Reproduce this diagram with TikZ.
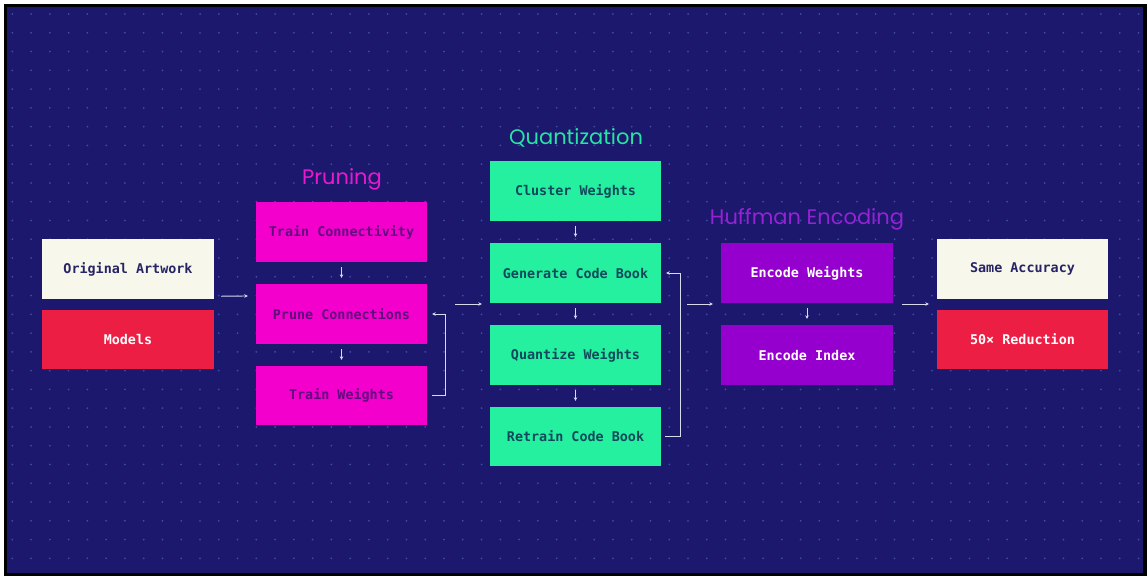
\documentclass[tikz,border=0pt]{standalone}
\usepackage{fontspec}
\setmonofont{DejaVu Sans Mono}
\newfontfamily\titlefont{Poppins}
\usetikzlibrary{arrows.meta}
\definecolor{bgnavy}{RGB}{27,24,110}
\definecolor{dotc}{RGB}{55,78,170}
\definecolor{cream}{RGB}{247,247,236}
\definecolor{redbox}{RGB}{236,30,68}
\definecolor{magbox}{RGB}{244,0,204}
\definecolor{grnbox}{RGB}{36,240,160}
\definecolor{purbox}{RGB}{150,0,206}
\definecolor{navytxt}{RGB}{38,36,100}
\definecolor{magtxt}{RGB}{95,10,125}
\definecolor{grntxt}{RGB}{18,72,92}
\definecolor{magtitle}{RGB}{232,24,206}
\definecolor{grntitle}{RGB}{40,228,162}
\definecolor{purtitle}{RGB}{150,34,212}
\definecolor{arrc}{RGB}{215,218,232}
\tikzset{
  box/.style={minimum width=171pt, minimum height=60pt, inner sep=0pt, font=\ttfamily\bfseries\fontsize{13.4}{15}\selectfont},
  creambox/.style={box, fill=cream, text=navytxt},
  redb/.style={box, fill=redbox, text=white},
  magb/.style={box, fill=magbox, text=magtxt},
  grnb/.style={box, fill=grnbox, text=grntxt},
  purb/.style={box, fill=purbox, text=white},
  ttl/.style={font=\titlefont\fontsize{21}{24}\selectfont, inner sep=0pt},
  arr/.style={draw=arrc, line width=0.9pt, -{Stealth[length=3.5pt,width=3.5pt]}},
}
\begin{document}
\begin{tikzpicture}[x=1pt,y=-1pt]
\useasboundingbox (0,0) rectangle (1147,576);
\fill[white] (0,0) rectangle (1147,576);
\fill[black] (4,4) rectangle (1147,576);
\fill[bgnavy] (7,6.5) rectangle (1143,572.5);
\foreach \i in {0,...,60}{
  \foreach \j in {0,...,29}{
    \fill[dotc] (12.3+\i*18.77, 14+\j*18.77) circle (1.0);
  }
}
% left column
\node[creambox, minimum width=172pt] (oa) at (128,269) {Original Artwork};
\node[redb, minimum width=172pt, minimum height=59pt] (mo) at (128,339.5) {Models};
% pruning
\node[ttl, text=magtitle] (tprun) at (342,179) {Pruning};
\node[magb] (tc) at (341.5,232) {Train Connectivity};
\node[magb] (pc) at (341.5,314) {Prune Connections};
\node[magb, minimum height=59pt] (tw) at (341.5,395.5) {Train Weights};
% quantization
\node[ttl, text=grntitle] (tquant) at (576,138) {Quantization};
\node[grnb] (cw) at (575.5,191) {Cluster Weights};
\node[grnb] (gc) at (575.5,273) {Generate Code Book};
\node[grnb] (qw) at (575.5,355) {Quantize Weights};
\node[grnb, minimum height=59pt] (rc) at (575.5,436.5) {Retrain Code Book};
% huffman
\node[ttl, text=purtitle] (thuff) at (807,219) {Huffman Encoding};
\node[purb, minimum width=172pt] (ew) at (807,273) {Encode Weights};
\node[purb, minimum width=172pt] (ei) at (807,355) {Encode Index};
% result
\node[creambox] (sa) at (1022.5,269) {Same Accuracy};
\node[redb, minimum height=59pt] (rd) at (1022.5,339.5) {50× Reduction};
% horizontal arrows
\draw[arr] ([shift={(7,-3)}]oa.south east) -- ([shift={(-8,-18)}]pc.west);
\draw[arr] ([shift={(28,-10)}]pc.east) -- ([shift={(-8,31)}]gc.west);
\draw[arr] ([shift={(26,31)}]gc.east) -- ([shift={(-8,31)}]ew.west);
\draw[arr] ([shift={(9,31)}]ew.east) -- ([shift={(-8,35)}]sa.west);
% vertical arrows
\draw[arr] ([yshift=-5pt]tc.south) -- ([yshift=6pt]pc.north);
\draw[arr] ([yshift=-5pt]pc.south) -- ([yshift=6pt]tw.north);
\draw[arr] ([yshift=-5pt]cw.south) -- ([yshift=6pt]gc.north);
\draw[arr] ([yshift=-5pt]gc.south) -- ([yshift=6pt]qw.north);
\draw[arr] ([yshift=-5pt]qw.south) -- ([yshift=6pt]rc.north);
\draw[arr] ([yshift=-5pt]ew.south) -- ([yshift=6pt]ei.north);
% feedback loops
\draw[arr] ([xshift=5pt]tw.east) -- ++(13,0) |- ([xshift=5pt]pc.east);
\draw[arr] ([xshift=4pt]rc.east) -- ++(15,0) |- ([xshift=5pt]gc.east);
\end{tikzpicture}
\end{document}
